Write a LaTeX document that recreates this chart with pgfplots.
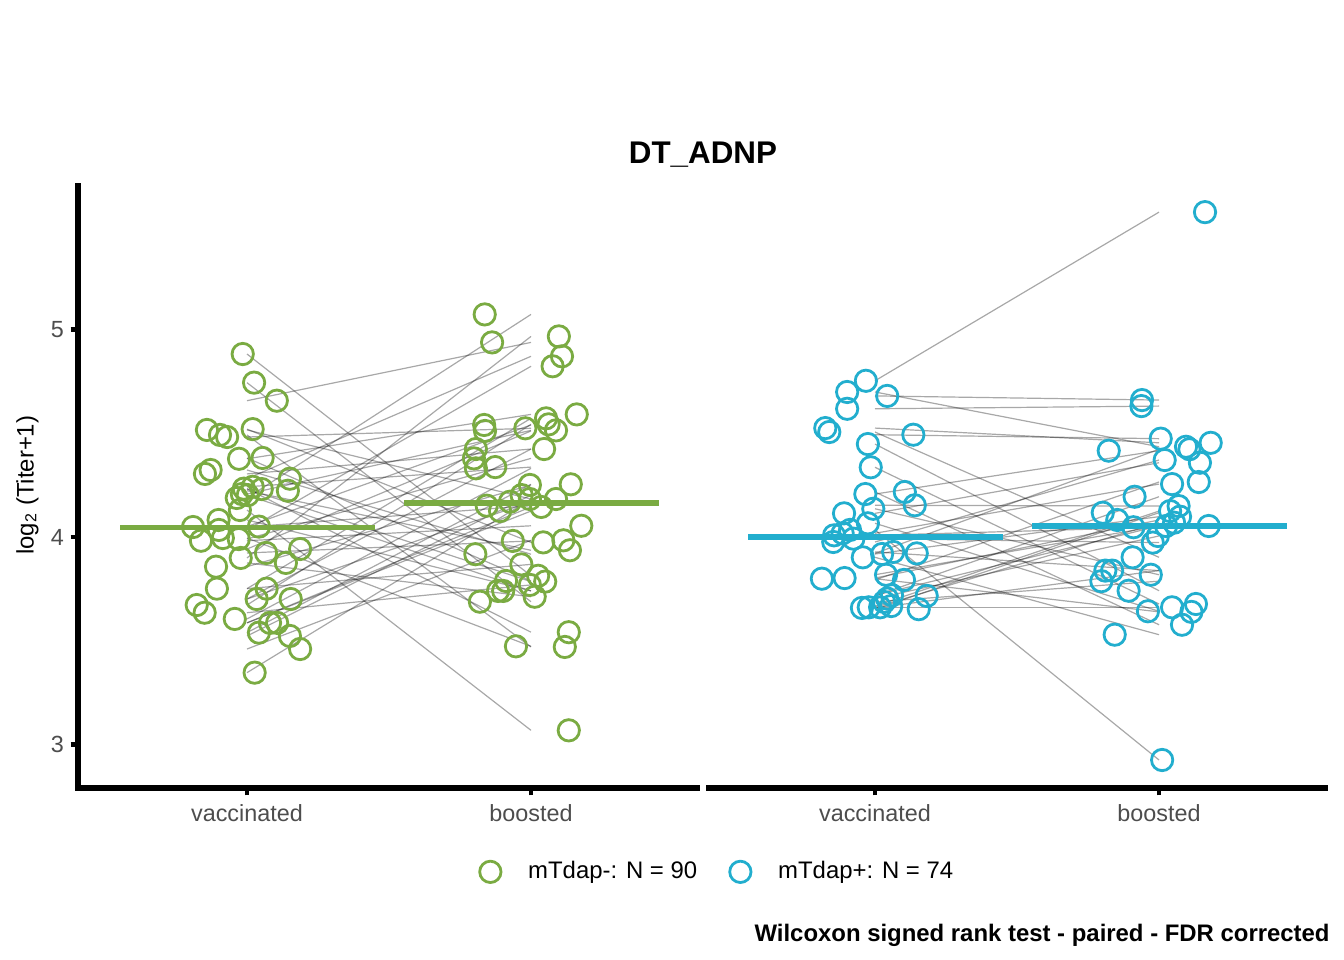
\documentclass[border=0pt]{standalone}
\usepackage{fontspec}
\setmainfont{Liberation Sans}
\usepackage{pgfplots}
\pgfplotsset{compat=1.18}
\usepackage{pgfplotstable}
\definecolor{grn}{RGB}{122,171,66}
\definecolor{blu}{RGB}{34,174,206}
\definecolor{tickgray}{RGB}{77,77,77}

% left panel: mTdap-  (jittered x, y) for vaccinated and boosted, one row per subject
\pgfplotstableread{
xv yv xb yb
0.985 4.882 2.025 3.813
1.025 4.744 1.820 3.688
1.105 4.657 1.863 4.938
0.859 4.516 2.088 4.183
0.905 4.492 2.119 3.470
0.930 4.482 1.980 4.524
1.020 4.520 2.043 3.974
0.972 4.377 2.161 4.591
1.055 4.381 1.912 3.788
0.852 4.304 1.806 4.424
0.872 4.323 1.804 3.917
1.151 4.281 2.109 4.871
1.144 4.223 2.137 3.936
0.982 4.207 2.088 4.514
0.989 4.233 2.133 3.541
1.020 4.242 1.874 4.337
1.052 4.231 2.050 3.785
0.964 4.188 1.837 5.073
0.975 4.130 2.133 3.068
1.042 4.050 1.835 4.540
0.810 4.048 1.844 4.151
0.900 4.082 1.902 3.740
0.901 4.034 2.076 4.823
0.838 3.982 2.177 4.054
0.915 3.995 1.947 3.473
0.971 3.990 1.799 4.379
0.978 3.899 2.098 4.967
1.067 3.923 1.936 3.981
1.187 3.942 1.838 4.511
1.137 3.875 2.013 3.712
0.891 3.857 1.996 4.251
0.894 3.751 2.053 4.572
1.069 3.751 1.966 3.868
1.034 3.701 2.046 4.424
1.154 3.701 1.926 4.170
0.823 3.672 2.062 4.543
0.851 3.635 1.996 3.769
0.957 3.605 1.806 4.331
1.042 3.539 2.140 4.254
1.081 3.586 2.036 4.145
1.106 3.586 1.891 4.125
1.151 3.523 1.967 4.202
1.187 3.460 2.114 3.984
1.027 3.346 1.996 4.183
1.003 4.202 1.884 3.740
}\leftdata

% right panel: mTdap+
\pgfplotstableread{
xv yv xb yb
0.968 4.753 2.162 5.566
0.902 4.699 2.095 4.435
1.043 4.680 1.940 4.660
0.902 4.618 1.938 4.631
0.825 4.525 2.182 4.454
0.839 4.506 1.907 3.902
1.135 4.493 2.006 4.474
0.975 4.448 1.893 3.741
0.985 4.336 2.130 3.677
0.966 4.207 1.823 4.416
1.105 4.217 2.081 3.577
1.140 4.153 2.069 4.149
0.994 4.136 1.971 3.818
0.891 4.114 2.144 4.358
0.975 4.066 1.961 3.642
0.856 4.008 1.910 4.047
0.886 4.018 2.046 4.255
0.912 4.034 2.011 2.925
0.924 3.992 1.978 3.973
0.853 3.976 2.020 4.371
0.957 3.902 1.844 3.529
1.025 3.918 2.074 4.098
1.064 3.928 1.835 3.838
1.147 3.921 2.107 4.423
1.039 3.818 2.025 4.053
1.102 3.793 2.140 4.265
0.813 3.799 2.114 3.639
0.893 3.802 1.853 4.082
1.182 3.716 1.914 4.194
1.060 3.719 2.175 4.053
1.043 3.703 1.996 4.005
0.978 3.661 2.053 4.069
1.018 3.661 2.046 3.661
1.057 3.667 2.039 4.125
1.154 3.652 1.802 4.117
0.954 3.658 1.811 3.838
1.032 3.687 1.797 3.787
}\rightdata

\pgfplotsset{
  panel/.style={
    anchor=south west, scale only axis,
    width=233.25bp, height=225.75bp,
    xmin=0.405, xmax=2.595, ymin=2.790, ymax=5.692,
    xtick={1,2}, xticklabels={vaccinated,boosted},
    tick align=outside, major tick length=2.8bp,
    tick style={line width=1.8bp, color=black},
    x axis line style={-, line width=2bp, black},
    y axis line style={-, line width=2bp, black, line cap=rect},
    ticklabel style={font=\fontsize{8.8}{10}\selectfont, text=tickgray},
    /pgf/number format/assume math mode=true,
    xticklabel style={yshift=0.25bp},
    clip=false,
  },
  pts/.style={only marks, mark=o, mark size=4bp, mark options={line width=1.05bp}},
  pairs/.style={no markers, draw=black, draw opacity=0.34, line width=0.45bp,
    quiver={u=1, v=\thisrow{yb}-\thisrow{yv}}},
}

\begin{document}
\begin{tikzpicture}
\path[use as bounding box] (0bp,0bp) rectangle (504bp,360bp);

\begin{axis}[panel, at={(29.25bp,64.5bp)},
  axis x line*=bottom, axis y line*=left,
  ytick={3,4,5},
  yticklabel style={xshift=1bp},
  ylabel={log\textsubscript{2} (Titer+1)},
  every axis y label/.style={at={(axis description cs:0,0.503)}, xshift=-19bp, rotate=90, anchor=center, font=\fontsize{9}{11}\selectfont},
  legend columns=2,
  legend style={at={(1.026,-0.1393)}, anchor=center, draw=none, fill=none,
    font=\fontsize{9}{11}\selectfont,
    /tikz/every even column/.append style={column sep=8bp}},
  legend image code/.code={\draw[#1] plot coordinates {(0bp,0bp)}; \path (-6bp,0bp) (12bp,0bp);},
]
\addplot[pts, grn] table[x=xv, y=yv] {\leftdata};
\addlegendentry{mTdap-: N = 90}
\addlegendimage{pts, blu}
\addlegendentry{mTdap+: N = 74}
\addplot[pts, grn, forget plot] table[x=xb, y=yb] {\leftdata};
\addplot[pairs, forget plot] table[x expr=1, y=yv] {\leftdata};
\addplot[grn, line width=1.9bp, forget plot] coordinates {(0.553,4.048) (1.451,4.048)};
\addplot[grn, line width=1.9bp, forget plot] coordinates {(1.553,4.164) (2.451,4.164)};
\end{axis}

\begin{axis}[panel, at={(264.75bp,64.5bp)},
  axis x line*=bottom, axis y line=none,
  ytick=\empty,
]
\addplot[pts, blu] table[x=xv, y=yv] {\rightdata};
\addplot[pts, blu] table[x=xb, y=yb] {\rightdata};
\addplot[pairs] table[x expr=1, y=yv] {\rightdata};
\addplot[blu, line width=1.9bp] coordinates {(0.553,4.000) (1.451,4.000)};
\addplot[blu, line width=1.9bp] coordinates {(1.553,4.053) (2.451,4.053)};
\end{axis}

\node[font=\bfseries\fontsize{11.8}{14}\selectfont, inner sep=0pt] at (263.6bp,301.9bp) {DT\_ADNP};
\node[font=\bfseries\fontsize{9}{11}\selectfont, anchor=east, inner sep=0pt] at (498.8bp,9.4bp) {Wilcoxon signed rank test - paired - FDR corrected};
\end{tikzpicture}
\end{document}
